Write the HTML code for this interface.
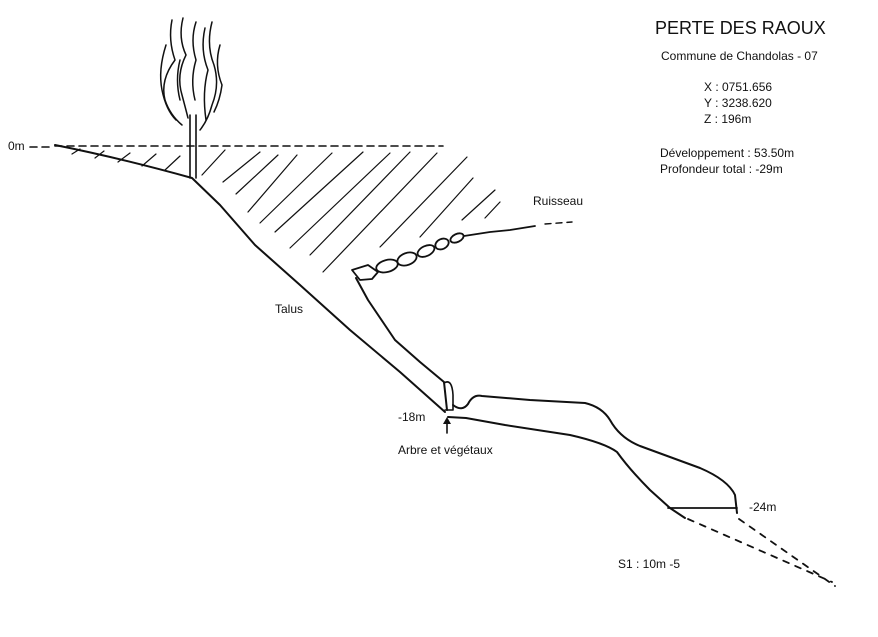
<!DOCTYPE html>
<html><head><meta charset="utf-8"><style>
html,body{margin:0;padding:0;background:#fff;}
svg{display:block;}
text{font-family:"Liberation Sans",sans-serif;fill:#111;}
</style></head><body>
<svg width="878" height="637" viewBox="0 0 878 637" xmlns="http://www.w3.org/2000/svg">
<rect width="878" height="637" fill="#fff"/>
<g fill="none" stroke="#111" stroke-linecap="round" stroke-linejoin="round">
<path d="M30 147 H50 M55 146 H443" stroke-width="1.6" stroke-dasharray="7,5"/>
<path d="M55 145 Q120 158 192 178 L220 205 L255 245 L300 285 L350 330 L400 372 L445 412" stroke-width="2"/>
<g stroke-width="1.2">
<path d="M72 154 L80 149 M95 158 L104 151 M118 162 L130 153 M142 166 L156 154 M165 170 L180 156"/>
<path d="M202 175 L225 150 M223 182 L260 152 M236 194 L278 155 M248 212 L297 155 M260 223 L332 153 M275 232 L363 152 M290 248 L390 153 M310 255 L410 152 M323 272 L437 153 M380 247 L467 157 M420 237 L473 178 M462 220 L495 190 M485 218 L500 202"/>
</g>
<path d="M190 115 L190 178 M196 115 L196 178" stroke-width="1.6"/>
<g stroke-width="1.5">
<path d="M172 20 Q168 40 175 60 Q160 80 165 100 Q170 115 182 125"/>
<path d="M166 45 Q158 70 162 90 Q166 110 176 120"/>
<path d="M183 18 Q178 38 186 55 Q176 75 182 95 Q186 110 188 118"/>
<path d="M196 22 Q190 40 196 60 Q190 80 195 100"/>
<path d="M205 28 Q200 50 208 70 Q202 92 206 120"/>
<path d="M212 22 Q206 45 214 65 Q220 85 212 105 Q208 120 200 130"/>
<path d="M220 45 Q214 65 222 85 Q220 100 214 112"/>
<path d="M180 60 Q175 80 180 100"/>
</g>
<g stroke-width="1.8">
<path d="M352 270 L368 265 L378 272 L372 279 L360 280 Z"/>
<ellipse cx="387" cy="266" rx="11" ry="6" transform="rotate(-15 387 266)"/>
<ellipse cx="407" cy="259" rx="10" ry="6" transform="rotate(-20 407 259)"/>
<ellipse cx="426" cy="251" rx="9" ry="5" transform="rotate(-25 426 251)"/>
<ellipse cx="442" cy="244" rx="7" ry="5" transform="rotate(-25 442 244)"/>
<ellipse cx="457" cy="238" rx="7" ry="4" transform="rotate(-25 457 238)"/>
<path d="M464 236 L490 232 L510 230 L535 226"/>
</g>
<path d="M545 224 L572 222" stroke-width="1.4" stroke-dasharray="6,5"/>
<path d="M356 278 L368 300 L395 340 L420 362 L444 382 L447 410" stroke-width="2"/>
<path d="M444 383 Q452 378 453 395 L453 410 L445 410" stroke-width="1.6"/>
<path d="M453 405 Q462 412 468 404 Q473 394 482 396 L530 400 L585 403 Q602 407 610 420 Q620 438 640 446 L700 468 Q728 480 735 495 L737 513" stroke-width="2"/>
<path d="M448 417 L466 418 L505 425 L570 435 Q605 443 617 452 Q630 470 650 490 L670 508 L685 518" stroke-width="2"/>
<path d="M668 508 H737" stroke-width="1.8"/>
<path d="M688 519 L832 582 M739 519 L835 586" stroke-width="1.8" stroke-dasharray="6,7"/>
<path d="M447 433 L447 423" stroke-width="1.6"/>
</g>
<path d="M443 424 L447 417 L451 424 Z" fill="#111"/>
<text x="655" y="34" font-size="18">PERTE DES RAOUX</text>
<text x="661" y="60" font-size="12">Commune de Chandolas - 07</text>
<text x="704" y="91" font-size="12">X : 0751.656</text>
<text x="704" y="107" font-size="12">Y : 3238.620</text>
<text x="704" y="123" font-size="12">Z : 196m</text>
<text x="660" y="157" font-size="12">Développement : 53.50m</text>
<text x="660" y="173" font-size="12">Profondeur total : -29m</text>
<text x="8" y="150" font-size="12">0m</text>
<text x="533" y="205" font-size="12">Ruisseau</text>
<text x="275" y="313" font-size="12">Talus</text>
<text x="398" y="421" font-size="12">-18m</text>
<text x="398" y="454" font-size="12">Arbre et végétaux</text>
<text x="749" y="511" font-size="12">-24m</text>
<text x="618" y="568" font-size="12">S1 : 10m -5</text>
</svg>
</body></html>
